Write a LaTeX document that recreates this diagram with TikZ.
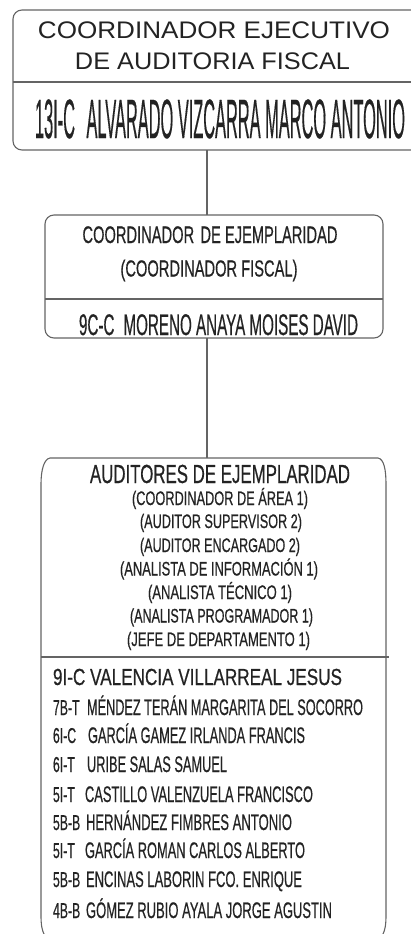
\documentclass[tikz,border=0pt]{standalone}
\usepackage{fontspec}
\setmainfont{Liberation Sans}
\newfontfamily\cfont{Liberation Sans}[FakeBold=0.7]
\usepackage{graphicx}
\definecolor{linec}{RGB}{100,100,100}
\definecolor{textc}{RGB}{35,35,35}
\newcommand\fitt[3]{\resizebox{#1pt}{#2pt}{\raisebox{0pt}[\fontcharht\font`H][0pt]{#3}}}
\newcommand\codet[1]{\scalebox{0.57}[1]{\fontsize{21.5}{21}\selectfont #1}}
\tikzset{
  ln/.style={draw=linec, line width=1.1pt},
  txt/.style={inner sep=0pt, outer sep=0pt, text=textc},
  ctr/.style={txt, anchor=base, font=\cfont},
  lft/.style={txt, anchor=base west, font=\cfont},
  wide/.style={txt, anchor=base, font=\normalfont}
}
\begin{document}
\begin{tikzpicture}[x=1pt, y=-1pt]
\useasboundingbox (0,0) rectangle (411,934);
% ---- top box
\draw[ln, rounded corners=9pt] (411,10) -- (13,10) -- (13,150) -- (411,150);
\draw[ln] (13,82) -- (411,82);
\node[wide] (t1) at (214,39) {\fitt{352}{16.5}{COORDINADOR EJECUTIVO}};
\node[wide] (t2) at (212.5,69.5) {\fitt{275}{16.5}{DE AUDITORIA FISCAL}};
\node[lft] (t3) at (35,138) {\fitt{370}{38}{13I-C\hspace{0.7em}ALVARADO VIZCARRA MARCO ANTONIO}};
% ---- middle box
\draw[ln, rounded corners=9pt] (45,215) rectangle (383,338);
\draw[ln] (45,299) -- (383,299);
\node[ctr] (m1) at (210,243) {\fitt{255}{16.5}{COORDINADOR\hspace{0.15em} DE EJEMPLARIDAD}};
\node[ctr] (m2) at (209,276.5) {\fitt{177}{16}{(COORDINADOR FISCAL)}};
\node[lft] (m3) at (79,335) {\fitt{279}{20.5}{9C-C\hspace{0.6em}MORENO ANAYA MOISES DAVID}};
% ---- bottom box
\draw[ln] (44,934) .. controls (42,930) and (41,925) .. (41,915) -- (41,484)
  .. controls (41,470) and (44,459) .. (50,458) -- (378,458)
  .. controls (384,459) and (386,470) .. (386,484) -- (386,915)
  .. controls (386,925) and (385,930) .. (383,934);
\draw[ln] (41,657) -- (389,657);
\node[ctr] (b0) at (220,483) {\fitt{260}{18}{AUDITORES DE EJEMPLARIDAD}};
\node[ctr] (b1) at (220,505) {\fitt{176}{13.5}{(COORDINADOR DE ÁREA 1)}};
\node[ctr] (b2) at (221,528) {\fitt{162}{13.5}{(AUDITOR SUPERVISOR 2)}};
\node[ctr] (b3) at (220,552) {\fitt{160}{13.5}{(AUDITOR ENCARGADO 2)}};
\node[ctr] (b4) at (219,575.5) {\fitt{198}{13.5}{(ANALISTA DE INFORMACIÓN 1)}};
\node[ctr] (b5) at (220,599) {\fitt{144}{13.5}{(ANALISTA TÉCNICO 1)}};
\node[ctr] (b6) at (221.5,622.5) {\fitt{183}{13.5}{(ANALISTA PROGRAMADOR 1)}};
\node[ctr] (b7) at (218.5,646) {\fitt{183}{13.5}{(JEFE DE DEPARTAMENTO 1)}};
% names
\node[lft] (n1) at (53,685) {\fitt{289}{16}{9I-C VALENCIA VILLARREAL JESUS}};
\node[lft] (c2) at (53,715) {\codet{7B-T}};
\node[lft] (n2) at (87,715) {\fitt{276}{15.5}{MÉNDEZ TERÁN MARGARITA DEL SOCORRO}};
\node[lft] (c3) at (53,743) {\codet{6I-C}};
\node[lft] (n3) at (88,743) {\fitt{217}{15.5}{GARCÍA GAMEZ IRLANDA FRANCIS}};
\node[lft] (c4) at (53,772) {\codet{6I-T}};
\node[lft] (n4) at (87,772) {\fitt{140}{15.5}{URIBE SALAS SAMUEL}};
\node[lft] (c5) at (53,802) {\codet{5I-T}};
\node[lft] (n5) at (85,802) {\fitt{228}{15.5}{CASTILLO VALENZUELA FRANCISCO}};
\node[lft] (c6) at (53,830) {\codet{5B-B}};
\node[lft] (n6) at (86,830) {\fitt{206}{15.5}{HERNÁNDEZ FIMBRES ANTONIO}};
\node[lft] (c7) at (53,858) {\codet{5I-T}};
\node[lft] (n7) at (85,858) {\fitt{220}{15.5}{GARCÍA ROMAN CARLOS ALBERTO}};
\node[lft] (c8) at (53,887) {\codet{5B-B}};
\node[lft] (n8) at (86,887) {\fitt{216}{15.5}{ENCINAS LABORIN FCO. ENRIQUE}};
\node[lft] (c9) at (53,918) {\codet{4B-B}};
\node[lft] (n9) at (86,918) {\fitt{246}{15.5}{GÓMEZ RUBIO AYALA JORGE AGUSTIN}};
% ---- connectors
\coordinate (topS) at (207,150);
\coordinate (midN) at (207,215);
\coordinate (midS) at (207,338);
\coordinate (botN) at (207,458);
\draw[ln] (topS) -- (midN);
\draw[ln] (midS) -- (botN);
\end{tikzpicture}
\end{document}
